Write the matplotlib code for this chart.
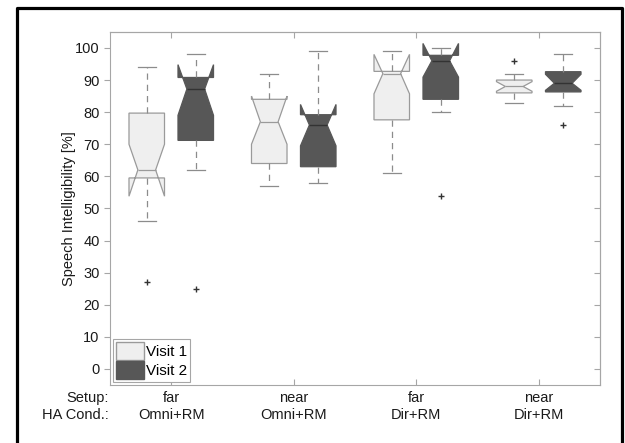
import numpy as np
import matplotlib.pyplot as plt
from matplotlib.patches import Patch
from matplotlib.lines import Line2D

plt.rcParams['font.family'] = ['Liberation Sans', 'DejaVu Sans']

# group labels
setups = ['far', 'near', 'far', 'near']
ha_cond = ['Omni+RM', 'Omni+RM', 'Dir+RM', 'Dir+RM']

# Visit 1
v1_med = [62, 77, 92, 88]
v1_q1 = [59.5, 64, 77.6, 86]
v1_q3 = [79.7, 84, 92.7, 90]
v1_lo = [46, 57, 61, 83]
v1_hi = [94, 92, 99, 92]
v1_cilo = [53.8, 70, 85.7, 86.5]
v1_cihi = [70, 85, 98, 89.5]
v1_out = [[27], [], [], [96]]

# Visit 2
v2_med = [87.2, 76, 96, 89]
v2_q1 = [71.2, 63, 84, 86.3]
v2_q3 = [90.8, 79.2, 97.7, 92.6]
v2_lo = [62, 58, 80, 82]
v2_hi = [98, 99, 100, 98]
v2_cilo = [79, 69.5, 90.9, 86.8]
v2_cihi = [94.8, 82.4, 101.4, 91.8]
v2_out = [[25], [], [54], [76]]


def make_stats(med, q1, q3, lo, hi, cilo, cihi, out):
    st = []
    for i in range(len(med)):
        st.append(dict(med=med[i], q1=q1[i], q3=q3[i], whislo=lo[i], whishi=hi[i],
                       cilo=cilo[i], cihi=cihi[i], fliers=np.array(out[i], dtype=float)))
    return st


grey = '#a6a6a6'
fig = plt.figure(figsize=(6.25, 4.43), dpi=100)
ax = fig.add_axes([0.176, 0.131, 0.784, 0.797])

pos = np.arange(1, len(setups) + 1)
common = dict(widths=0.29, shownotches=True, patch_artist=True, manage_ticks=False)

ax.bxp(make_stats(v1_med, v1_q1, v1_q3, v1_lo, v1_hi, v1_cilo, v1_cihi, v1_out),
       positions=pos - 0.2,
       boxprops=dict(facecolor='#efefef', edgecolor='#9a9a9a', linewidth=0.9),
       medianprops=dict(color='#9a9a9a', linewidth=0.9),
       whiskerprops=dict(color='#8c8c8c', linestyle=(0, (5, 4)), linewidth=0.9),
       capprops=dict(color='#8c8c8c', linewidth=0.9),
       flierprops=dict(marker='+', markeredgecolor='#333333', markersize=4, linestyle='none'),
       **common)

ax.bxp(make_stats(v2_med, v2_q1, v2_q3, v2_lo, v2_hi, v2_cilo, v2_cihi, v2_out),
       positions=pos + 0.2,
       boxprops=dict(facecolor='#575757', edgecolor='#575757', linewidth=0.9),
       medianprops=dict(color='#333333', linewidth=1.0),
       whiskerprops=dict(color='#8c8c8c', linestyle=(0, (5, 4)), linewidth=0.9),
       capprops=dict(color='#8c8c8c', linewidth=0.9),
       flierprops=dict(marker='+', markeredgecolor='#333333', markersize=4, linestyle='none'),
       **common)

ax.set_xlim(0.5, 4.5)
ax.set_ylim(-5, 105)
ax.set_yticks(range(0, 101, 10))
ax.set_xticks(pos)
ax.set_xticklabels([s + '\n' + h for s, h in zip(setups, ha_cond)], linespacing=1.3)
ax.tick_params(axis='y', direction='out', length=4, color=grey, labelsize=10.5, labelcolor='#1a1a1a')
ax.tick_params(axis='x', direction='in', length=4, color=grey, labelsize=10.5, labelcolor='#1a1a1a', pad=4)
for sp in ax.spines.values():
    sp.set_color(grey)

sec_r = ax.secondary_yaxis('right')
sec_r.set_yticks(range(0, 101, 10))
sec_r.tick_params(direction='in', length=4, color=grey, labelright=False)
sec_r.spines['right'].set_color(grey)
sec_t = ax.secondary_xaxis('top')
sec_t.set_xticks(pos)
sec_t.tick_params(direction='in', length=4, color=grey, labeltop=False)
sec_t.spines['top'].set_color(grey)

ax.set_ylabel('Speech Intelligibility [%]', fontsize=10.5, color='#1a1a1a', labelpad=-0.5)

ax.annotate('Setup:\nHA Cond.:', xy=(0, 0), xycoords='axes fraction',
            xytext=(-1, -4), textcoords='offset points', ha='right', va='top',
            fontsize=10.5, color='#1a1a1a', linespacing=1.3)

handles = [Patch(facecolor='#efefef', edgecolor='#9a9a9a', label='Visit 1'),
           Patch(facecolor='#575757', edgecolor='#575757', label='Visit 2')]
leg = ax.legend(handles=handles, loc='lower left', fontsize=11, fancybox=False,
                framealpha=1, edgecolor=grey, borderaxespad=0.2, borderpad=0.2,
                handlelength=1.8, handleheight=1.4, handletextpad=0.15, labelspacing=0.1)
leg.get_frame().set_linewidth(0.8)

# black frame round the figure (open at the bottom)
fig.add_artist(Line2D([0.027, 0.027, 0.995, 0.995], [0, 0.982, 0.982, 0],
                      transform=fig.transFigure, color='black', linewidth=2.3))

fig.savefig('out.png', dpi=100)
